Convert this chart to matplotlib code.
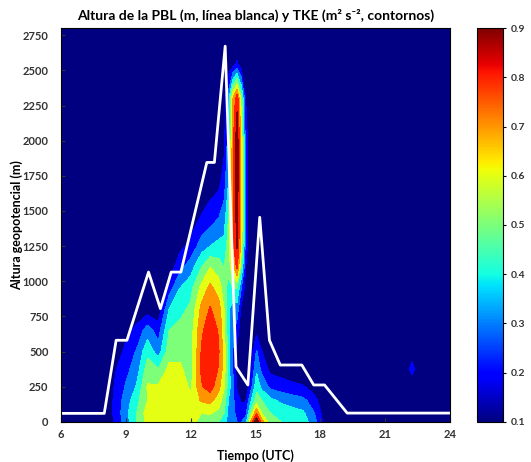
import matplotlib
matplotlib.use('Agg')
import matplotlib.pyplot as plt
import numpy as np
from matplotlib import cm, colors

plt.rcParams['font.family'] = ['Lato', 'DejaVu Sans']

# PBL height (white line)
pbl_time = [6, 8.0, 8.55, 9.05, 10.05, 10.6, 11.1, 11.55, 12.75, 13.1, 13.6, 14.1, 14.65,
            15.2, 15.65, 16.15, 17.15, 17.7, 18.2, 19.25, 24]
pbl_height = [60, 60, 580, 580, 1065, 805, 1065, 1065, 1845, 1845, 2672, 392, 262,
              1455, 580, 404, 404, 262, 262, 62, 62]

# TKE grid (one row per time, values by height level)
tke_time = [6, 8.0, 8.5, 9, 9.5, 10, 10.5, 11, 11.5, 12, 12.5, 12.9, 13.3, 13.55, 13.75,
            13.95, 14.15, 14.35, 14.55, 14.8, 15.05, 15.3, 15.7, 16.2, 16.7, 17.2, 17.7,
            18.2, 18.6, 21.9, 22.25, 22.6, 24]
tke_height = [0, 60, 150, 250, 375, 500, 650, 800, 950, 1100, 1250, 1450, 1700, 2000,
              2300, 2550, 2800]
tke = [
    [0.05, 0.05, 0.05, 0.05, 0.05, 0.05, 0.05, 0.05, 0.05, 0.05, 0.05, 0.05, 0.05, 0.05, 0.05, 0.05, 0.05],
    [0.08, 0.08, 0.07, 0.06, 0.05, 0.05, 0.05, 0.05, 0.05, 0.05, 0.05, 0.05, 0.05, 0.05, 0.05, 0.05, 0.05],
    [0.16, 0.17, 0.17, 0.16, 0.14, 0.08, 0.05, 0.05, 0.05, 0.05, 0.05, 0.05, 0.05, 0.05, 0.05, 0.05, 0.05],
    [0.30, 0.32, 0.30, 0.26, 0.22, 0.18, 0.12, 0.05, 0.05, 0.05, 0.05, 0.05, 0.05, 0.05, 0.05, 0.05, 0.05],
    [0.45, 0.45, 0.42, 0.36, 0.30, 0.26, 0.18, 0.08, 0.05, 0.05, 0.05, 0.05, 0.05, 0.05, 0.05, 0.05, 0.05],
    [0.58, 0.60, 0.55, 0.56, 0.50, 0.42, 0.30, 0.10, 0.05, 0.05, 0.05, 0.05, 0.05, 0.05, 0.05, 0.05, 0.05],
    [0.60, 0.62, 0.60, 0.56, 0.45, 0.30, 0.20, 0.08, 0.05, 0.05, 0.05, 0.05, 0.05, 0.05, 0.05, 0.05, 0.05],
    [0.62, 0.63, 0.63, 0.62, 0.58, 0.50, 0.45, 0.35, 0.20, 0.08, 0.05, 0.05, 0.05, 0.05, 0.05, 0.05, 0.05],
    [0.62, 0.63, 0.63, 0.62, 0.57, 0.52, 0.48, 0.42, 0.35, 0.22, 0.12, 0.05, 0.05, 0.05, 0.05, 0.05, 0.05],
    [0.60, 0.60, 0.58, 0.53, 0.50, 0.50, 0.50, 0.47, 0.42, 0.30, 0.18, 0.10, 0.05, 0.05, 0.05, 0.05, 0.05],
    [0.50, 0.55, 0.66, 0.74, 0.77, 0.76, 0.73, 0.68, 0.58, 0.45, 0.30, 0.16, 0.07, 0.05, 0.05, 0.05, 0.05],
    [0.48, 0.56, 0.68, 0.80, 0.84, 0.85, 0.82, 0.76, 0.68, 0.55, 0.35, 0.20, 0.10, 0.05, 0.05, 0.05, 0.05],
    [0.45, 0.52, 0.60, 0.68, 0.74, 0.76, 0.74, 0.70, 0.60, 0.50, 0.38, 0.25, 0.12, 0.06, 0.05, 0.05, 0.05],
    [0.40, 0.45, 0.50, 0.56, 0.60, 0.60, 0.58, 0.55, 0.50, 0.45, 0.38, 0.30, 0.20, 0.12, 0.08, 0.05, 0.05],
    [0.30, 0.32, 0.35, 0.40, 0.40, 0.40, 0.38, 0.36, 0.40, 0.50, 0.50, 0.45, 0.35, 0.30, 0.30, 0.08, 0.05],
    [0.28, 0.28, 0.28, 0.28, 0.25, 0.25, 0.28, 0.30, 0.45, 0.62, 0.72, 0.72, 0.72, 0.72, 0.65, 0.10, 0.05],
    [0.25, 0.22, 0.18, 0.14, 0.10, 0.12, 0.20, 0.30, 0.45, 0.78, 0.86, 0.90, 0.92, 0.92, 0.82, 0.16, 0.05],
    [0.25, 0.20, 0.14, 0.10, 0.07, 0.06, 0.08, 0.12, 0.25, 0.45, 0.60, 0.62, 0.62, 0.62, 0.50, 0.08, 0.05],
    [0.30, 0.22, 0.14, 0.08, 0.06, 0.05, 0.05, 0.05, 0.10, 0.15, 0.20, 0.20, 0.20, 0.20, 0.15, 0.05, 0.05],
    [0.70, 0.50, 0.35, 0.22, 0.15, 0.10, 0.05, 0.05, 0.05, 0.05, 0.05, 0.05, 0.05, 0.05, 0.05, 0.05, 0.05],
    [0.95, 0.75, 0.50, 0.42, 0.33, 0.26, 0.12, 0.05, 0.05, 0.05, 0.05, 0.05, 0.05, 0.05, 0.05, 0.05, 0.05],
    [0.70, 0.55, 0.45, 0.32, 0.22, 0.15, 0.06, 0.05, 0.05, 0.05, 0.05, 0.05, 0.05, 0.05, 0.05, 0.05, 0.05],
    [0.48, 0.45, 0.38, 0.22, 0.12, 0.06, 0.05, 0.05, 0.05, 0.05, 0.05, 0.05, 0.05, 0.05, 0.05, 0.05, 0.05],
    [0.45, 0.42, 0.33, 0.20, 0.10, 0.05, 0.05, 0.05, 0.05, 0.05, 0.05, 0.05, 0.05, 0.05, 0.05, 0.05, 0.05],
    [0.42, 0.40, 0.30, 0.18, 0.07, 0.05, 0.05, 0.05, 0.05, 0.05, 0.05, 0.05, 0.05, 0.05, 0.05, 0.05, 0.05],
    [0.40, 0.37, 0.28, 0.16, 0.06, 0.05, 0.05, 0.05, 0.05, 0.05, 0.05, 0.05, 0.05, 0.05, 0.05, 0.05, 0.05],
    [0.30, 0.26, 0.20, 0.10, 0.05, 0.05, 0.05, 0.05, 0.05, 0.05, 0.05, 0.05, 0.05, 0.05, 0.05, 0.05, 0.05],
    [0.12, 0.10, 0.06, 0.05, 0.05, 0.05, 0.05, 0.05, 0.05, 0.05, 0.05, 0.05, 0.05, 0.05, 0.05, 0.05, 0.05],
    [0.05, 0.05, 0.05, 0.05, 0.05, 0.05, 0.05, 0.05, 0.05, 0.05, 0.05, 0.05, 0.05, 0.05, 0.05, 0.05, 0.05],
    [0.05, 0.05, 0.05, 0.05, 0.05, 0.05, 0.05, 0.05, 0.05, 0.05, 0.05, 0.05, 0.05, 0.05, 0.05, 0.05, 0.05],
    [0.05, 0.05, 0.05, 0.05, 0.20, 0.08, 0.05, 0.05, 0.05, 0.05, 0.05, 0.05, 0.05, 0.05, 0.05, 0.05, 0.05],
    [0.05, 0.05, 0.05, 0.05, 0.05, 0.05, 0.05, 0.05, 0.05, 0.05, 0.05, 0.05, 0.05, 0.05, 0.05, 0.05, 0.05],
    [0.05, 0.05, 0.05, 0.05, 0.05, 0.05, 0.05, 0.05, 0.05, 0.05, 0.05, 0.05, 0.05, 0.05, 0.05, 0.05, 0.05],
]

x_ticks = [6, 9, 12, 15, 18, 21, 24]
y_ticks = list(range(0, 2751, 250))
cb_ticks = [0.1, 0.2, 0.3, 0.4, 0.5, 0.6, 0.7, 0.8, 0.9]

fig = plt.figure(figsize=(5.31, 4.62), dpi=100)
ax = fig.add_axes([0.115, 0.087, 0.732, 0.852])
cax = fig.add_axes([0.898, 0.087, 0.049, 0.852])

norm = colors.Normalize(vmin=0.1, vmax=0.9)
levels = np.arange(0.15, 0.9, 0.1)
z = np.array(tke).T
ax.contourf(tke_time, tke_height, z, levels=levels, cmap='jet', norm=norm, extend='both')
ax.plot(pbl_time, pbl_height, color='white', lw=2)

ax.set_xlim(6, 24)
ax.set_ylim(0, 2800)
ax.set_xticks(x_ticks)
ax.set_yticks(y_ticks)
ax.tick_params(direction='in', length=3, labelsize=8, colors='#333333', labelcolor='#333333')
ax.tick_params(axis='y', pad=9)
ax.tick_params(axis='x', pad=5)
for lab in ax.get_xticklabels() + ax.get_yticklabels():
    lab.set_fontweight('bold')
ax.set_xlabel('Tiempo (UTC)', fontsize=9, fontweight='bold', labelpad=7)
ax.set_ylabel('Altura geopotencial (m)', fontsize=9, fontweight='bold', labelpad=0)
ax.set_title('Altura de la PBL (m, línea blanca) y TKE (m² s⁻², contornos)',
             fontsize=10, fontweight='bold', pad=6)

cb = fig.colorbar(cm.ScalarMappable(norm=norm, cmap='jet'), cax=cax, ticks=cb_ticks)
cb.ax.tick_params(labelsize=7.5, length=2, labelcolor='#333333')
for lab in cb.ax.get_yticklabels():
    lab.set_fontweight('bold')

fig.savefig('out.png', dpi=100)
